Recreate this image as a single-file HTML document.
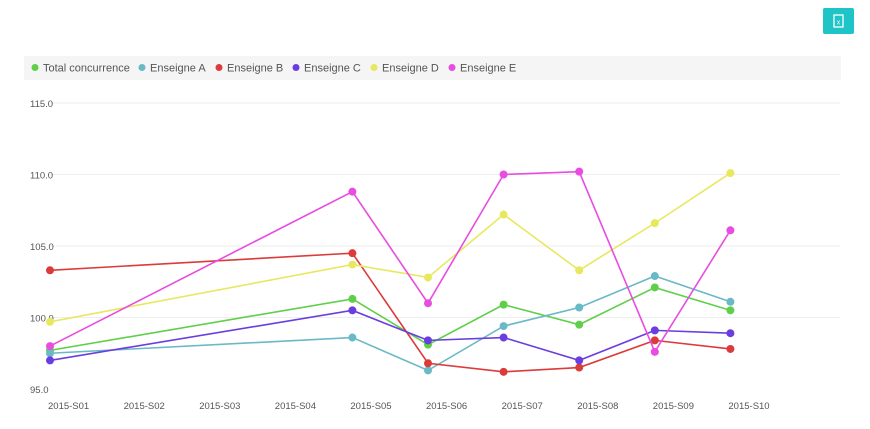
<!DOCTYPE html>
<html><head><meta charset="utf-8"><style>
body{margin:0;background:#fff;font-family:"Liberation Sans",sans-serif;}
#wrap{position:relative;width:870px;height:429px;overflow:hidden;}
</style></head><body>
<div id="wrap">
<div style="position:absolute;left:823px;top:8px;width:31px;height:26px;background:#1fc4c6;border-radius:2px;">
<svg width="31" height="26"><rect x="11" y="7" width="9" height="12" fill="none" stroke="#fff" stroke-width="1.3"/><text x="15.5" y="16.5" font-size="7" fill="#fff" text-anchor="middle" font-family="Liberation Sans">x</text></svg>
</div>
<svg id="chart" width="870" height="429" style="position:absolute;left:0;top:0"></svg>
</div>
<script>
const categories=["2015-S01","2015-S02","2015-S03","2015-S04","2015-S05","2015-S06","2015-S07","2015-S08","2015-S09","2015-S10"];
const seriesNames=["Total concurrence","Enseigne A","Enseigne B","Enseigne C","Enseigne D","Enseigne E"];
const seriesColors=["#5fcf4a","#6ab9c6","#dc3b3b","#6a3de0","#e8e860","#e84ce0"];
const totalValues=[97.7,null,null,null,101.3,98.1,100.9,99.5,102.1,100.5];
const aValues=[97.5,null,null,null,98.6,96.3,99.4,100.7,102.9,101.1];
const bValues=[103.3,null,null,null,104.5,96.8,96.2,96.5,98.4,97.8];
const cValues=[97.0,null,null,null,100.5,98.4,98.6,97.0,99.1,98.9];
const dValues=[99.7,null,null,null,103.7,102.8,107.2,103.3,106.6,110.1];
const eValues=[98.0,null,null,null,108.8,101.0,110.0,110.2,97.6,106.1];
const yTicks=[95,100,105,110,115];
const allSeries=[totalValues,aValues,bValues,cValues,dValues,eValues];
const NS="http://www.w3.org/2000/svg";
const svg=document.getElementById('chart');
function xPos(i){return 50+i*75.6;}
function yPos(v){return 389-(v-95)*(286/20);}
function mk(t,a){const e=document.createElementNS(NS,t);for(const k in a)e.setAttribute(k,a[k]);svg.appendChild(e);return e;}
// legend bg
let lg=mk('rect',{x:24,y:56,width:817,height:24,fill:'#f5f5f5'});


let lx=35;
const legendX=[35,142,219,296,374,452];
seriesNames.forEach((n,i)=>{
  let x=legendX[i];
  let c=mk('circle',{cx:x,cy:67.5,r:3.5,fill:seriesColors[i]});
  
  
  let t=mk('text',{x:x+8,y:71.5,'font-size':11,fill:'#555'});t.textContent=n;
  
  
});
yTicks.forEach(v=>{
  if(v>95){let g=mk('line',{x1:50,x2:840,y1:yPos(v),y2:yPos(v),stroke:'#eee','stroke-width':1});
  
  }
  let t=mk('text',{x:30,y:yPos(v)+4,'font-size':9.5,fill:'#555'});t.textContent=v.toFixed(1);
  
  
});
categories.forEach((c,i)=>{
  let t=mk('text',{x:xPos(i)-2,y:409,'font-size':9.5,fill:'#555'});t.textContent=c;
  
  
});
allSeries.forEach((vals,s)=>{
  const pts=[];vals.forEach((v,i)=>{if(v!==null)pts.push([xPos(i),yPos(v)]);});
  let p=mk('polyline',{points:pts.map(p=>p.join(',')).join(' '),fill:'none',stroke:seriesColors[s],'stroke-width':1.6});
  
  
  pts.forEach(pt=>{
    let c=mk('circle',{cx:pt[0],cy:pt[1],r:4,fill:seriesColors[s]});
    
    
  });
});
</script>
</body></html>
